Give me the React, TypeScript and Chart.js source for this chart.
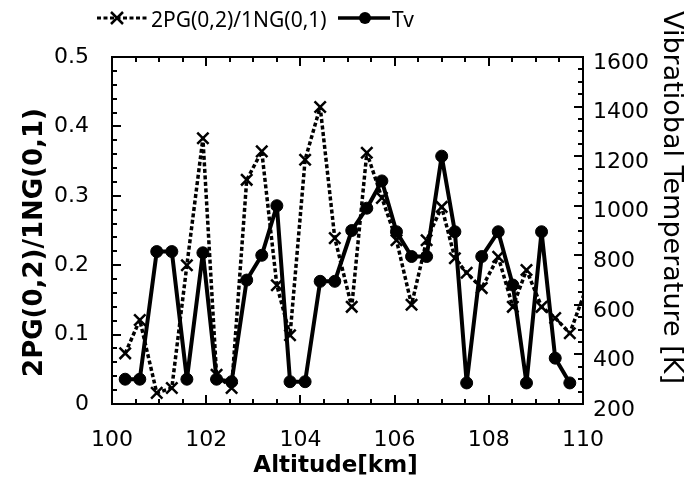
import React, { useEffect, useRef } from "react";
import { Chart, registerables } from "chart.js";

Chart.register(...registerables);

// Altitude [km] of each sample
const altitudes = [
  100.28, 100.59, 100.95, 101.27, 101.59, 101.93, 102.22, 102.54, 102.86, 103.18,
  103.5, 103.78, 104.1, 104.42, 104.73, 105.09, 105.41, 105.73, 106.04, 106.36,
  106.68, 107.0, 107.28, 107.53, 107.85, 108.2, 108.51, 108.8, 109.12, 109.41, 109.72,
];
// Vibrational temperature Tv [K]
const tvValues = [
  300, 300, 815, 815, 300, 810, 300, 290, 700, 800,
  1000, 290, 290, 695, 695, 900, 990, 1100, 895, 795,
  795, 1200, 895, 285, 795, 895, 680, 285, 895, 385, 285,
];
// 2PG(0,2)/1NG(0,1) ratio
const ratioValues = [
  0.073, 0.121, 0.016, 0.023, 0.2, 0.383, 0.042, 0.023, 0.323, 0.364,
  0.171, 0.099, 0.352, 0.428, 0.239, 0.14, 0.362, 0.297, 0.236, 0.143,
  0.236, 0.284, 0.21, 0.189, 0.167, 0.212, 0.14, 0.193, 0.14, 0.124, 0.102,
];
// the ratio curve continues past the right edge of the frame
const ratioTailAltitude = [110.3];
const ratioTailValue = [0.21];

const xTickLabels = [100, 102, 104, 106, 108, 110];
const ratioTickLabels = [0, 0.1, 0.2, 0.3, 0.4, 0.5];
const tvTickLabels = [200, 400, 600, 800, 1000, 1200, 1400, 1600];

const ratioLabel = "2PG(0,2)/1NG(0,1)";
const tvLabel = "Tv";
const xTitle = "Altitude[km]";
const leftTitle = "2PG(0,2)/1NG(0,1)";
const rightTitle = "Vibratiobal Temperature [K]";

const tickFont = { family: "DejaVu Sans", size: 22, weight: "normal" as const };
const plainLabel = (v: any) => String(v);

const decorPlugin = {
  id: "decor",
  afterDraw(chart: any) {
    const { ctx, chartArea } = chart;
    const { left, right, top, bottom } = chartArea;
    const xs = chart.scales.x;
    const yl = chart.scales.yRatio;
    const yr = chart.scales.yTv;
    ctx.save();
    ctx.strokeStyle = "#000";
    ctx.lineWidth = 2;
    ctx.setLineDash([]);
    ctx.strokeRect(left, top, right - left, bottom - top);

    const major = 9;
    const minor = 5;
    ctx.beginPath();
    for (let i = 0; i <= 20; i++) {
      const v = 100 + i * 0.5;
      const x = Math.round(xs.getPixelForValue(v));
      const len = i % 4 === 0 ? major : minor;
      ctx.moveTo(x, bottom);
      ctx.lineTo(x, bottom - len);
      ctx.moveTo(x, top);
      ctx.lineTo(x, top + len);
    }
    for (let i = 0; i <= 25; i++) {
      const v = i * 0.02;
      const y = Math.round(yl.getPixelForValue(v));
      const len = i % 5 === 0 ? major : minor;
      ctx.moveTo(left, y);
      ctx.lineTo(left + len, y);
    }
    for (let i = 0; i <= 28; i++) {
      const v = 200 + i * 50;
      const y = Math.round(yr.getPixelForValue(v));
      const len = i % 4 === 0 ? major : minor;
      ctx.moveTo(right, y);
      ctx.lineTo(right - len, y);
    }
    ctx.stroke();

    // axis titles
    ctx.fillStyle = "#000";
    ctx.font = "bold 23px 'DejaVu Sans'";
    ctx.textAlign = "center";
    ctx.textBaseline = "middle";
    ctx.fillText(xTitle, (left + right) / 2 - 12, 466);

    ctx.save();
    ctx.translate(42, (top + bottom) / 2 + 12);
    ctx.rotate(-Math.PI / 2);
    ctx.font = "bold 26px 'DejaVu Sans'";
    ctx.textBaseline = "alphabetic";
    ctx.fillText(leftTitle, 0, 0);
    ctx.restore();

    ctx.save();
    ctx.translate(664, (top + bottom) / 2 - 33);
    ctx.rotate(Math.PI / 2);
    ctx.font = "normal 27px 'DejaVu Sans'";
    ctx.textBaseline = "alphabetic";
    ctx.fillText(rightTitle, 0, 0);
    ctx.restore();

    // legend
    const ly = 18;
    ctx.lineWidth = 3;
    ctx.setLineDash([4, 2.5]);
    ctx.beginPath();
    ctx.moveTo(97, ly);
    ctx.lineTo(148, ly);
    ctx.stroke();
    ctx.setLineDash([]);
    ctx.lineWidth = 2.5;
    ctx.beginPath();
    ctx.moveTo(111, ly - 6);
    ctx.lineTo(123, ly + 6);
    ctx.moveTo(123, ly - 6);
    ctx.lineTo(111, ly + 6);
    ctx.stroke();

    ctx.lineWidth = 3.5;
    ctx.beginPath();
    ctx.moveTo(338, ly);
    ctx.lineTo(390, ly);
    ctx.stroke();
    ctx.beginPath();
    ctx.arc(365, ly, 6, 0, Math.PI * 2);
    ctx.fill();

    ctx.font = "normal 21px 'Noto Sans'";
    ctx.textAlign = "left";
    ctx.textBaseline = "middle";
    ctx.fillText(ratioLabel, 151, 21);
    ctx.fillText(tvLabel, 392, 21);
    ctx.restore();
  },
};

export default function App() {
  const canvasRef = useRef<HTMLCanvasElement | null>(null);

  useEffect(() => {
    document.body.style.margin = "0";
    document.body.style.background = "#fff";
    const canvas = canvasRef.current;
    if (!canvas) return;

    const tvData = altitudes.map((a, i) => ({ x: a, y: tvValues[i] }));
    const ratioData = altitudes
      .map((a, i) => ({ x: a, y: ratioValues[i] }))
      .concat(ratioTailAltitude.map((a, i) => ({ x: a, y: ratioTailValue[i] })));

    const chart = new Chart(canvas, {
      type: "line",
      data: {
        datasets: [
          {
            label: tvLabel,
            data: tvData,
            yAxisID: "yTv",
            borderColor: "#000",
            backgroundColor: "#000",
            borderWidth: 4,
            borderJoinStyle: "round",
            pointStyle: "circle",
            pointRadius: 6,
            pointBorderWidth: 1,
            pointBackgroundColor: "#000",
            pointBorderColor: "#000",
            tension: 0,
          },
          {
            label: ratioLabel,
            data: ratioData,
            yAxisID: "yRatio",
            borderColor: "#000",
            backgroundColor: "#000",
            borderWidth: 3.5,
            borderDash: [4, 2.5],
            borderJoinStyle: "round",
            pointStyle: "crossRot",
            pointRadius: 8,
            pointBorderWidth: 2.5,
            pointBorderColor: "#000",
            tension: 0,
          },
        ],
      },
      options: {
        animation: false,
        responsive: true,
        maintainAspectRatio: false,
        layout: { padding: { top: 57, left: 0, right: 0, bottom: 0 } },
        plugins: {
          legend: { display: false },
          tooltip: { enabled: false },
        },
        scales: {
          x: {
            type: "linear",
            min: 100,
            max: 110,
            afterBuildTicks: (s: any) => {
              s.ticks = xTickLabels.map((v) => ({ value: v }));
            },
            ticks: { color: "#000", font: tickFont, padding: 23, maxRotation: 0, callback: plainLabel },
            grid: { display: false, drawTicks: false },
            border: { display: false },
            afterFit: (s: any) => {
              s.height = 79;
            },
          },
          yRatio: {
            type: "linear",
            position: "left",
            min: 0,
            max: 0.5,
            afterBuildTicks: (s: any) => {
              s.ticks = ratioTickLabels.map((v) => ({ value: v }));
            },
            ticks: { color: "#000", font: tickFont, padding: 23, callback: plainLabel },
            grid: { display: false, drawTicks: false },
            border: { display: false },
            afterFit: (s: any) => {
              s.width = 112;
            },
          },
          yTv: {
            type: "linear",
            position: "right",
            min: 200,
            max: 1600,
            afterBuildTicks: (s: any) => {
              s.ticks = tvTickLabels.map((v) => ({ value: v }));
            },
            ticks: { color: "#000", font: tickFont, padding: 10, labelOffset: 6, callback: plainLabel },
            grid: { display: false, drawTicks: false },
            border: { display: false },
            afterFit: (s: any) => {
              s.width = 102;
            },
          },
        },
      },
      plugins: [decorPlugin],
    });

    return () => {
      chart.destroy();
    };
  }, []);

  return (
    <div style={{ width: 685, height: 483, position: "relative", background: "#fff" }}>
      <canvas ref={canvasRef} />
    </div>
  );
}
